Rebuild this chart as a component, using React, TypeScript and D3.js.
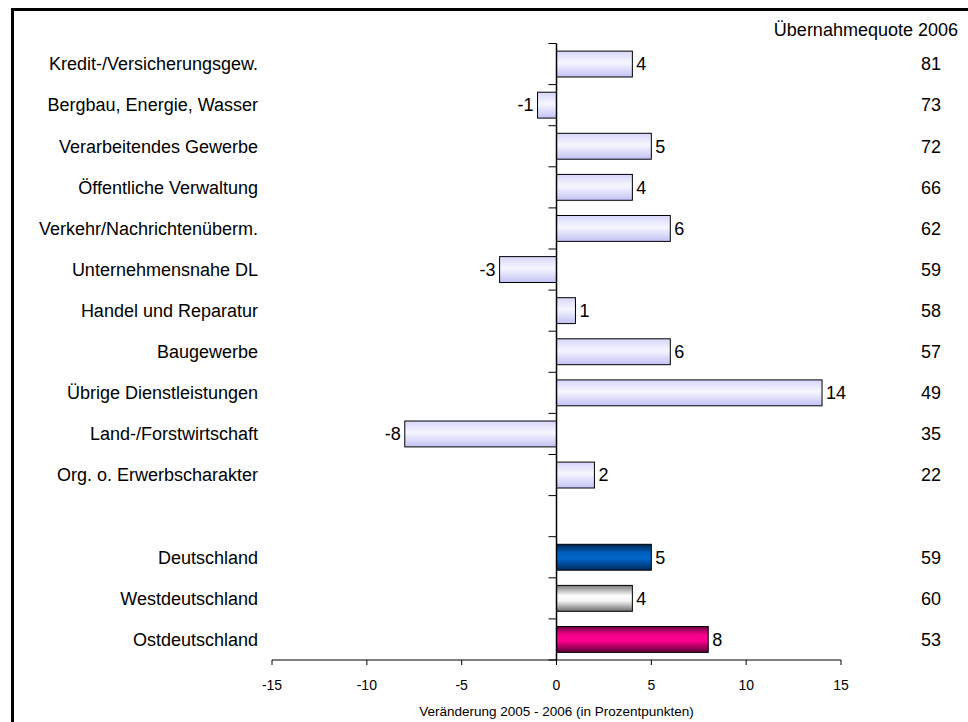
import React from "react";
import * as d3 from "d3";

const categories = [
  "Kredit-/Versicherungsgew.",
  "Bergbau, Energie, Wasser",
  "Verarbeitendes Gewerbe",
  "Öffentliche Verwaltung",
  "Verkehr/Nachrichtenüberm.",
  "Unternehmensnahe DL",
  "Handel und Reparatur",
  "Baugewerbe",
  "Übrige Dienstleistungen",
  "Land-/Forstwirtschaft",
  "Org. o. Erwerbscharakter",
  "",
  "Deutschland",
  "Westdeutschland",
  "Ostdeutschland",
];
const changes: (number | null)[] = [4, -1, 5, 4, 6, -3, 1, 6, 14, -8, 2, null, 5, 4, 8];
const quotes: (number | null)[] = [81, 73, 72, 66, 62, 59, 58, 57, 49, 35, 22, null, 59, 60, 53];
const fillKinds = ["lav", "lav", "lav", "lav", "lav", "lav", "lav", "lav", "lav", "lav", "lav", "none", "blue", "gray", "pink"];
const xTicks = [-15, -10, -5, 0, 5, 10, 15];
const rightHeader = "Übernahmequote 2006";
const xTitle = "Veränderung 2005 - 2006 (in Prozentpunkten)";

const W = 968;
const H = 722;
const FONT = "Arial, 'Liberation Sans', sans-serif";
const LABEL_SIZE = 18;

export default function App() {
  const x = d3.scaleLinear().domain([-15, 15]).range([272, 841]);
  const y = d3
    .scaleBand<string>()
    .domain(categories.map((_, i) => String(i)))
    .range([43.5, 660])
    .paddingInner(0.37)
    .paddingOuter(0.185);
  const step = y.step();
  const bw = y.bandwidth();
  const x0 = x(0);
  const axisY = 660;
  const boundaries = d3.range(categories.length + 1).map((i) => 43.5 + i * step);

  return (
    <svg
      width={W}
      height={H}
      style={{ position: "absolute", left: 0, top: 0, display: "block", background: "#fff" }}
      fontFamily={FONT}
    >
      <defs>
        <linearGradient id="g-lav" x1="0" y1="0" x2="0" y2="1">
          <stop offset="0" stopColor="#d6d6fa" />
          <stop offset="0.45" stopColor="#f6f6ff" />
          <stop offset="1" stopColor="#c2c2f4" />
        </linearGradient>
        <linearGradient id="g-blue" x1="0" y1="0" x2="0" y2="1">
          <stop offset="0" stopColor="#00254f" />
          <stop offset="0.3" stopColor="#005cb8" />
          <stop offset="0.55" stopColor="#0066cc" />
          <stop offset="1" stopColor="#002a5a" />
        </linearGradient>
        <linearGradient id="g-gray" x1="0" y1="0" x2="0" y2="1">
          <stop offset="0" stopColor="#7a7a7a" />
          <stop offset="0.4" stopColor="#ffffff" />
          <stop offset="0.6" stopColor="#f4f4f4" />
          <stop offset="1" stopColor="#6e6e6e" />
        </linearGradient>
        <linearGradient id="g-pink" x1="0" y1="0" x2="0" y2="1">
          <stop offset="0" stopColor="#6a0040" />
          <stop offset="0.3" stopColor="#f00088" />
          <stop offset="0.55" stopColor="#ff0090" />
          <stop offset="1" stopColor="#5a0034" />
        </linearGradient>
      </defs>

      {/* frame */}
      <line x1={11} x2={W} y1={9.5} y2={9.5} stroke="#000" strokeWidth={3} />
      <line x1={12.5} x2={12.5} y1={8} y2={H} stroke="#000" strokeWidth={3} />

      {/* right column header */}
      <text x={958} y={36} textAnchor="end" fontSize={LABEL_SIZE} fill="#000">
        {rightHeader}
      </text>

      {categories.map((c, i) => {
        const yc = (y(String(i)) as number) + bw / 2;
        const v = changes[i];
        const q = quotes[i];
        const kind = fillKinds[i];
        return (
          <g key={i}>
            {c && (
              <text x={258} y={yc} dy="0.35em" textAnchor="end" fontSize={LABEL_SIZE} fill="#000">
                {c}
              </text>
            )}
            {v !== null && (
              <>
                <rect
                  x={Math.min(x(v), x0)}
                  y={y(String(i))}
                  width={Math.abs(x(v) - x0)}
                  height={bw}
                  fill={`url(#g-${kind})`}
                  stroke="#000"
                  strokeWidth={1}
                />
                <text
                  x={v >= 0 ? x(v) + 4 : x(v) - 4}
                  y={yc}
                  dy="0.35em"
                  textAnchor={v >= 0 ? "start" : "end"}
                  fontSize={LABEL_SIZE}
                  fill="#000"
                >
                  {v}
                </text>
              </>
            )}
            {q !== null && (
              <text x={941} y={yc} dy="0.35em" textAnchor="end" fontSize={LABEL_SIZE} fill="#000">
                {q}
              </text>
            )}
          </g>
        );
      })}

      {/* zero axis with category ticks */}
      <line x1={x0} x2={x0} y1={43.5} y2={axisY} stroke="#000" strokeWidth={1.5} />
      {boundaries.map((b, i) => (
        <line key={i} x1={x0 - 8} x2={x0} y1={b} y2={b} stroke="#000" strokeWidth={1} />
      ))}

      {/* bottom x axis */}
      <line x1={x(-15)} x2={x(15)} y1={axisY} y2={axisY} stroke="#000" strokeWidth={1} />
      {xTicks.map((t) => (
        <g key={t}>
          <line x1={x(t)} x2={x(t)} y1={axisY} y2={axisY + 5} stroke="#000" strokeWidth={1} />
          <text x={x(t)} y={axisY + 30} textAnchor="middle" fontSize={14} fill="#000">
            {t}
          </text>
        </g>
      ))}
      <text x={x0} y={716} textAnchor="middle" fontSize={13.5} fill="#000">
        {xTitle}
      </text>
    </svg>
  );
}
